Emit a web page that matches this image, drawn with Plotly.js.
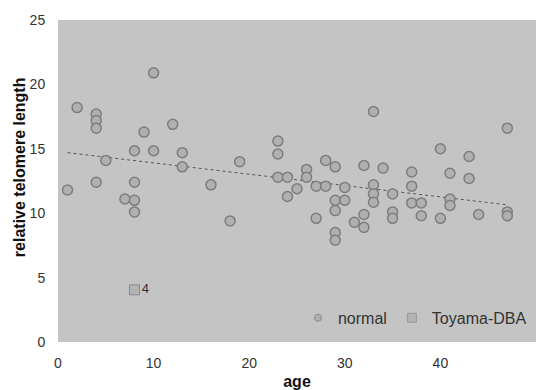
<!DOCTYPE html>
<html>
<head>
<meta charset="utf-8">
<script src="https://cdn.plot.ly/plotly-3.0.1.min.js"></script>
<style>html,body{margin:0;padding:0;background:#fff;}#chart{width:543px;height:390px;}</style>
</head>
<body>
<div id="chart"></div>
<script>
var normalAge = [1,2,4,4,4,4,5,7,8,8,8,8,9,10,10,12,13,13,16,18,19,23,23,23,24,24,25,26,26,27,27,28,28,29,29,29,29,29,30,30,31,32,32,32,33,33,33,33,34,35,35,35,37,37,37,38,38,40,40,41,41,41,43,43,44,47,47,47];
var normalTL = [11.8,18.2,17.7,17.2,16.6,12.4,14.1,11.1,11.0,12.4,14.85,10.1,16.3,14.85,20.9,16.9,14.7,13.6,12.2,9.4,14.0,15.6,14.6,12.8,12.8,11.3,11.9,13.4,12.8,12.1,9.6,12.1,14.1,13.6,11.0,10.2,8.5,7.9,12.0,11.0,9.3,13.7,9.9,8.9,17.9,12.2,11.5,10.85,13.5,11.5,10.1,9.6,13.2,12.1,10.8,10.8,9.8,15.0,9.6,13.1,11.1,10.6,14.4,12.7,9.9,16.6,10.1,9.8];
var dbaAge = [8];
var dbaTL = [4.05];
var dbaLabels = ['4'];
var trendAge = [1, 47];
var trendTL = [14.7, 10.65];
var xTicks = [0, 10, 20, 30, 40, 50];
var yTicks = [0, 5, 10, 15, 20, 25];

var fam = 'Liberation Sans, Arial, sans-serif';

var traces = [
  {
    x: trendAge, y: trendTL, mode: 'lines', type: 'scatter', showlegend: false,
    line: {color: '#555', width: 1, dash: 'dot'}, hoverinfo: 'skip'
  },
  {
    x: normalAge, y: normalTL, mode: 'markers', type: 'scatter', name: 'normal', showlegend: false,
    marker: {symbol: 'circle', size: 10, color: '#b0b0b0', line: {color: '#7d7d7d', width: 1.5}}
  },
  {
    x: dbaAge, y: dbaTL, mode: 'markers+text', type: 'scatter', name: 'Toyama-DBA', showlegend: false,
    text: dbaLabels, textposition: 'middle right',
    textfont: {family: fam, size: 13, color: '#333'},
    marker: {symbol: 'square', size: 10, color: '#b3b3b3', line: {color: '#8a8a8a', width: 1}}
  },
  {
    x: [null], y: [null], mode: 'markers', type: 'scatter', name: 'normal',
    marker: {symbol: 'circle', size: 7, color: '#b0b0b0', line: {color: '#8a8a8a', width: 1}}
  },
  {
    x: [null], y: [null], mode: 'markers', type: 'scatter', name: 'Toyama-DBA',
    marker: {symbol: 'square', size: 9, color: '#b3b3b3', line: {color: '#999', width: 1}}
  }
];

var layout = {
  width: 543, height: 390,
  margin: {l: 58, r: 7, t: 20, b: 48},
  paper_bgcolor: '#ffffff',
  plot_bgcolor: '#c4c4c4',
  font: {family: fam, size: 14, color: '#333'},
  xaxis: {
    range: [0, 50], tickvals: xTicks, showgrid: false, zeroline: false,
    showline: false, ticks: 'outside', ticklen: 8, tickcolor: 'rgba(0,0,0,0)',
    tickfont: {family: fam, size: 14, color: '#333'},
    title: {text: 'age', font: {family: fam, size: 16, color: '#111', weight: 'bold'}, standoff: 6}
  },
  yaxis: {
    range: [0, 25], tickvals: yTicks, showgrid: false, zeroline: false,
    showline: false, ticks: 'outside', ticklen: 9, tickcolor: 'rgba(0,0,0,0)',
    tickfont: {family: fam, size: 14, color: '#333'},
    title: {text: ''}
  },
  annotations: [{
    text: 'relative telomere length', xref: 'paper', yref: 'paper',
    x: -0.0816, y: 0.543, xanchor: 'center', yanchor: 'middle', textangle: -90,
    showarrow: false, font: {family: fam, size: 16, color: '#111', weight: 'bold'}
  }],
  legend: {
    orientation: 'h', x: 0.502, y: 0.075, xanchor: 'left', yanchor: 'middle',
    bgcolor: 'rgba(0,0,0,0)', font: {family: fam, size: 16, color: '#333'},
    itemwidth: 30
  },
  showlegend: true
};

Plotly.newPlot('chart', traces, layout, {displayModeBar: false, staticPlot: true});
</script>
</body>
</html>
